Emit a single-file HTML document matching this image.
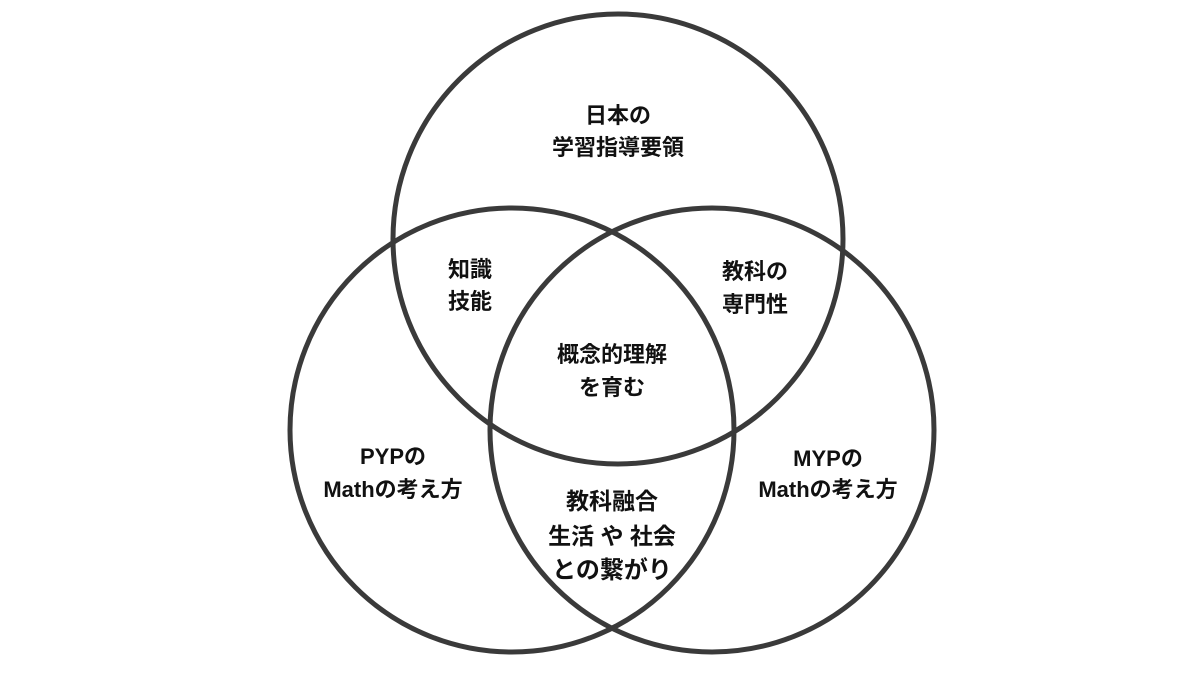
<!DOCTYPE html>
<html><head><meta charset="utf-8"><style>
html,body{margin:0;padding:0;background:#fff;}
svg{display:block}
text{font-family:"Liberation Sans","Noto Sans CJK JP",sans-serif;font-weight:bold;fill:#111;text-anchor:middle;}
</style></head><body>
<svg width="1200" height="674" viewBox="0 0 1200 674">
<g fill="none" stroke="#3a3a3a" stroke-width="5">
<circle cx="618" cy="239" r="225"/>
<circle cx="512" cy="430" r="222"/>
<circle cx="712" cy="430" r="222"/>
</g>
<g font-size="22">
<text x="618" y="123">日本の</text>
<text x="618" y="155">学習指導要領</text>
<text x="470" y="277">知識</text>
<text x="470" y="309">技能</text>
<text x="755" y="279">教科の</text>
<text x="755" y="312">専門性</text>
<text x="612" y="362">概念的理解</text>
<text x="612" y="395">を育む</text>
<text x="393" y="464">PYPの</text>
<text x="393" y="497">Mathの考え方</text>
<text x="828" y="466">MYPの</text>
<text x="828" y="497">Mathの考え方</text>
<text x="612" y="509" font-size="23">教科融合</text>
<text x="612" y="544" font-size="23">生活 や 社会</text>
<text x="612" y="578" font-size="24">との繋がり</text>
</g>
</svg>
</body></html>
